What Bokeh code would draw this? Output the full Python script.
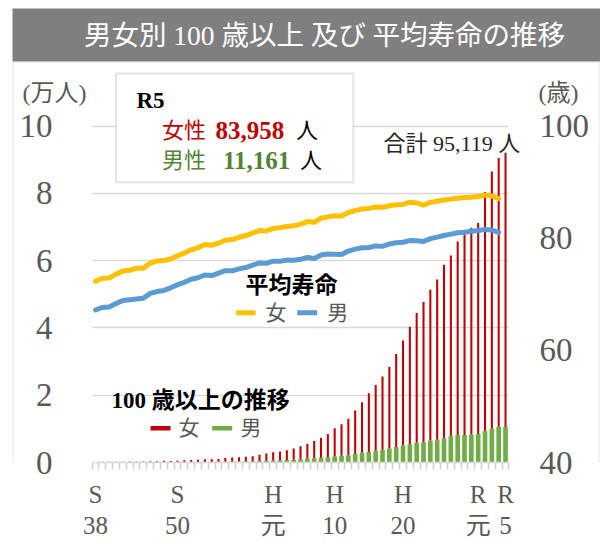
from bokeh.plotting import figure
from bokeh.models import ColumnDataSource, Range1d, LinearAxis, FixedTicker, BoxAnnotation, Label
from bokeh.embed import file_html
from bokeh.resources import INLINE

# ---------------- data ----------------
years = list(range(1963, 2024))
male_100 = [20, 31, 36, 47, 52, 64, 51, 62, 70, 78, 87, 79, 102, 117, 142, 145, 161, 174, 191, 240,
            262, 311, 359, 379, 451, 526, 630, 680, 770, 839, 950, 1093, 1255, 1400, 1570, 1812,
            1973, 2158, 2541, 2875, 3159, 3523, 3779, 4150, 4613, 5063, 5447, 5869, 5994, 6534,
            6791, 7221, 7840, 8167, 8197, 8331, 8464, 9475, 10060, 10613, 10550]
female_100 = [133, 160, 162, 205, 203, 263, 201, 248, 269, 327, 408, 348, 446, 549, 635, 704, 776,
              794, 881, 1114, 1214, 1270, 1381, 1472, 1820, 2142, 2448, 2618, 2855, 3313, 3852,
              4500, 5123, 5973, 6921, 8346, 9373, 10878, 12934, 15059, 17402, 19515, 21775, 24245,
              27682, 31213, 34952, 38580, 41762, 44842, 47606, 51599, 53728, 57525, 59627, 61454,
              62774, 70975, 76450, 79913, 81589]

le_years = list(range(1963, 2023))
le_female = [72.34, 72.87, 72.92, 73.61, 74.15, 74.30, 74.67, 74.66, 75.58, 75.94, 76.02, 76.31,
             76.89, 77.35, 77.95, 78.33, 78.89, 78.76, 79.13, 79.66, 79.78, 80.18, 80.48, 80.93,
             81.39, 81.30, 81.77, 81.90, 82.11, 82.22, 82.51, 82.98, 82.85, 83.59, 83.82, 84.01,
             83.99, 84.60, 84.93, 85.23, 85.33, 85.59, 85.52, 85.81, 85.99, 86.05, 86.44, 86.30,
             85.90, 86.41, 86.61, 86.83, 86.99, 87.14, 87.26, 87.32, 87.45, 87.71, 87.57, 87.09]
le_male = [67.21, 67.67, 67.74, 68.35, 68.91, 69.05, 69.18, 69.31, 70.17, 70.50, 70.70, 71.16,
           71.73, 72.15, 72.69, 72.97, 73.46, 73.35, 73.79, 74.22, 74.20, 74.54, 74.78, 75.23,
           75.61, 75.54, 75.91, 75.92, 76.11, 76.09, 76.25, 76.57, 76.38, 77.01, 77.19, 77.16,
           77.10, 77.72, 78.07, 78.32, 78.36, 78.64, 78.56, 79.00, 79.19, 79.29, 79.59, 79.55,
           79.44, 79.94, 80.21, 80.50, 80.75, 80.98, 81.09, 81.25, 81.41, 81.56, 81.47, 81.05]

x_tick_years = [1963, 1975, 1989, 1998, 2008, 2019, 2023]
x_tick_era = ["S", "S", "H", "H", "H", "R", "R"]
x_tick_num = ["38", "50", "元", "10", "20", "元", "5"]
left_ticks = [0, 2, 4, 6, 8, 10]
right_ticks = [40, 60, 80, 100]

title_text = "男女別 100 歳以上 及び 平均寿命の推移"
box_year = "R5"
box_female = "83,958"
box_male = "11,161"
total_text = "合計 95,119 人"

# ---------------- layout constants (pixels) ----------------
W, H = 600, 541
FL, FR, FT, FB = 12, 600, 0, 462        # frame edges
SX = 410 / 60.0                          # px per year
BAR_L = 91.6                             # pixel of first bar slot's left edge
XA = years[0] - 0.5
XB = years[-1] + 0.5
X_START = XA - (BAR_L - FL) / SX
X_END = X_START + (FR - FL) / SX
SY = (FB - 125.7) / 10.0                 # px per 万人
Y_TOP = (FB - FT) / SY
SA = SY * 10.0 / 60.0                    # px per year of age
A_TOP = 40 + (FB - FT) / SA

def px(xp):
    return X_START + (xp - FL) / SX

def py(yp):
    return (FB - yp) / SY

SERIF = "'Liberation Serif', 'Noto Sans CJK JP'"
GRAY = "#595959"
RED = "#C00000"
GREEN = "#70AD47"
GREEN_T = "#548235"
ORANGE = "#FFC000"
BLUE = "#5B9BD5"
GRID = "#d9d9d9"

p = figure(width=W, height=H, output_backend="svg", toolbar_location=None,
           x_range=Range1d(X_START, X_END), y_range=Range1d(0, Y_TOP),
           min_border_left=FL, min_border_right=W - FR, min_border_top=FT, min_border_bottom=H - FB,
           x_axis_location=None, y_axis_location=None)
p.outline_line_color = None
p.background_fill_color = "white"
p.border_fill_color = "white"
p.extra_y_ranges = {"age": Range1d(40, A_TOP)}

# grid (horizontal lines only across the bar area)
p.xgrid.visible = False
p.ygrid.ticker = FixedTicker(ticks=left_ticks)
p.ygrid.grid_line_color = GRID
p.ygrid.grid_line_width = 1.5
try:
    p.ygrid.cross_bounds = (XA, XB)
except Exception:
    p.ygrid.visible = False
    p.segment(x0=[XA] * len(left_ticks), y0=left_ticks, x1=[XB] * len(left_ticks), y1=left_ticks,
              line_color=GRID, line_width=1.5, level="underlay")

# left axis (labels pulled inside the frame)
ya = LinearAxis(ticker=FixedTicker(ticks=left_ticks))
ya.axis_line_color = None
ya.major_tick_line_color = None
ya.minor_tick_line_color = None
ya.major_tick_out = 0
ya.major_tick_in = 0
ya.major_label_standoff = -(52 - FL)
ya.major_label_text_font = SERIF
ya.major_label_text_font_size = "33px"
ya.major_label_text_color = GRAY
p.add_layout(ya, "left")

# right axis
ra = LinearAxis(y_range_name="age", ticker=FixedTicker(ticks=right_ticks))
ra.axis_line_color = None
ra.major_tick_line_color = None
ra.minor_tick_line_color = None
ra.major_tick_out = 0
ra.major_tick_in = 0
ra.major_label_standoff = 539 - FR
ra.major_label_text_font = SERIF
ra.major_label_text_font_size = "33px"
ra.major_label_text_color = GRAY
p.add_layout(ra, "right")

# bottom axes (two lines of era labels)
half_years = [XA + i for i in range(len(years) + 1)]
xa = LinearAxis(ticker=FixedTicker(ticks=x_tick_years, minor_ticks=half_years), bounds=(XA, XB))
xa.axis_line_color = GRID
xa.axis_line_width = 1.5
xa.major_tick_line_color = None
xa.major_tick_out = 0
xa.major_tick_in = 0
xa.minor_tick_line_color = "#d0d0d0"
xa.minor_tick_line_width = 1.5
xa.minor_tick_out = 7
xa.minor_tick_in = 0
xa.major_label_overrides = {y: t for y, t in zip(x_tick_years, x_tick_era)}
xa.major_label_standoff = 11
xa.major_label_text_font = SERIF
xa.major_label_text_font_size = "25px"
xa.major_label_text_color = GRAY
p.add_layout(xa, "below")

xb = LinearAxis(ticker=FixedTicker(ticks=x_tick_years), bounds=(XA, XB))
xb.axis_line_color = None
xb.major_tick_line_color = None
xb.minor_tick_line_color = None
xb.major_tick_out = 0
xb.major_tick_in = 0
xb.major_label_overrides = {y: t for y, t in zip(x_tick_years, x_tick_num)}
xb.major_label_standoff = 1
xb.major_label_text_font = SERIF
xb.major_label_text_font_size = "25px"
xb.major_label_text_color = GRAY
p.add_layout(xb, "below")

# bars (stacked: male bottom, female on top), in 万人
src = ColumnDataSource(dict(
    x=years,
    male=[m / 10000 for m in male_100],
    total=[(m + f) / 10000 for m, f in zip(male_100, female_100)],
))
p.vbar(x="x", bottom=0, top="male", width=0.68, source=src, fill_color=GREEN, line_color=None)
p.vbar(x="x", bottom="male", top="total", width=0.3, source=src, fill_color=RED, line_color=None)

# life expectancy lines
p.line(le_years, le_female, y_range_name="age", line_color=ORANGE, line_width=5, line_join="round", line_cap="round")
p.line(le_years, le_male, y_range_name="age", line_color=BLUE, line_width=5, line_join="round", line_cap="round")

# ---------------- decorations ----------------
# banner + outer border
p.add_layout(BoxAnnotation(left=px(11), right=px(620), top=py(8), bottom=py(61),
                           fill_color="#7f7f7f", fill_alpha=1, line_color=None))
p.add_layout(BoxAnnotation(left=px(12.75), right=px(598.5), top=py(61.75), bottom=py(600),
                           fill_alpha=0, line_color="#bfbfbf", line_width=1.5))
p.add_layout(Label(x=px(324), y=py(35), text=title_text, text_font=SERIF, text_font_size="27.5px",
                   text_color="white", text_align="center", text_baseline="middle"))

def lab(xp, yp, text, size, color, bold=False, align="left"):
    p.add_layout(Label(x=px(xp), y=py(yp), text=text, text_font=SERIF, text_font_size=size,
                       text_color=color, text_align=align, text_baseline="middle",
                       text_font_style="bold" if bold else "normal"))

# axis unit labels
lab(22, 92, "(万人)", "24px", GRAY)
lab(538, 92, "(歳)", "24px", GRAY)

# R5 info box
p.add_layout(BoxAnnotation(left=px(115.5), right=px(352.8), top=py(73), bottom=py(181.7),
                           fill_color="white", fill_alpha=1, line_color="#a6a6a6", line_width=2))
lab(136, 100, box_year, "23px", "black", bold=True)
lab(161.4, 130, "女性", "22px", RED)
lab(215, 130, box_female, "25px", RED, bold=True)
lab(295.6, 130, "人", "22px", "black")
lab(161.4, 160, "男性", "22px", GREEN_T)
lab(222.5, 160, box_male, "25px", GREEN_T, bold=True)
lab(299.5, 160, "人", "22px", "black")

lab(383, 143, total_text, "22px", "#262626")

# legend: life expectancy
lab(291, 285, "平均寿命", "23px", "black", bold=True, align="center")
p.segment(x0=[px(235.7)], y0=[py(312.3)], x1=[px(255)], y1=[py(312.3)], line_color=ORANGE, line_width=5)
lab(265, 312.3, "女", "21px", GRAY)
p.segment(x0=[px(296.7)], y0=[py(312.3)], x1=[px(316.7)], y1=[py(312.3)], line_color=BLUE, line_width=5)
lab(326.7, 312.3, "男", "21px", GRAY)

# legend: centenarians
lab(200, 400, "100 歳以上の推移", "23px", "black", bold=True, align="center")
p.segment(x0=[px(150)], y0=[py(427.7)], x1=[px(170)], y1=[py(427.7)], line_color=RED, line_width=4.5)
lab(178, 427.7, "女", "21px", GRAY)
p.segment(x0=[px(211.7)], y0=[py(427.7)], x1=[px(231.7)], y1=[py(427.7)], line_color=GREEN, line_width=4.5)
lab(240, 427.7, "男", "21px", GRAY)

open("out.html", "w").write(file_html(p, INLINE))
